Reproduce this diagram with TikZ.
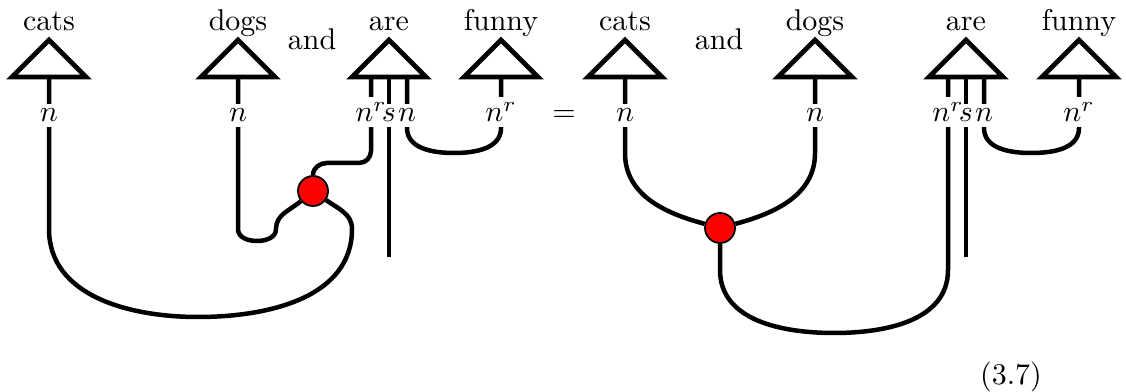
\documentclass[tikz,border=0pt]{standalone}
\usepackage{amsmath}
\usepackage{amssymb}

\begin{document}
\begin{tikzpicture}[x=0.3333pt,y=0.3333pt,
        wire/.style={line width=1.5pt},
        tri/.style={line width=1.6pt},
        lbl/.style={anchor=base,inner sep=1.5pt},
        word/.style={anchor=base,inner sep=0pt},
        dot/.style={circle,draw,fill=red,line width=0.6pt,minimum size=10pt,inner sep=0pt}]
        \useasboundingbox (0,0) rectangle (1126,-392);

        % words and their triangles
        \foreach \name/\x/\w in {cats1/49/cats, dogs1/238/dogs, are1/389/are, funny1/501/funny,
                                 cats2/625/cats, dogs2/815/dogs, are2/966/are, funny2/1079/funny}
        {
            \draw[tri] (\x-37,-77) -- (\x,-40) -- (\x+37,-77) -- cycle;
            \node[word] (w\name) at (\x,-31) {\w};
            \coordinate (\name) at (\x,-77);
        }
        \coordinate (are1nr) at (371,-77);
        \coordinate (are1s)  at (389,-77);
        \coordinate (are1n)  at (407,-77);
        \coordinate (are2nr) at (948,-77);
        \coordinate (are2s)  at (966,-77);
        \coordinate (are2n)  at (984,-77);

        \node[word] (and1) at (312,-50) {and};
        \node[word] (and2) at (719,-50) {and};
        \node[lbl]  (eq)   at (564,-122) {$=$};
        \node[word] (eqno) at (1011,-385) {(3.7)};

        % types on the wires
        \node[lbl] (lc1)  at (49,-122)   {$n$};
        \node[lbl] (ld1)  at (238,-122)  {$n$};
        \node[lbl] (lnr1) at (371,-122)  {$n^r$};
        \node[lbl] (ls1)  at (389,-122)  {$s$};
        \node[lbl] (ln1)  at (407,-122)  {$n$};
        \node[lbl] (lf1)  at (501,-122)  {$n^r$};
        \node[lbl] (lc2)  at (625,-122)  {$n$};
        \node[lbl] (ld2)  at (815,-122)  {$n$};
        \node[lbl] (lnr2) at (948,-122)  {$n^r$};
        \node[lbl] (ls2)  at (966,-122)  {$s$};
        \node[lbl] (ln2)  at (984,-122)  {$n$};
        \node[lbl] (lf2)  at (1079,-122) {$n^r$};

        \node[dot] (d1) at (313,-191) {};
        \node[dot] (d2) at (720,-228) {};
        \coordinate (s1end) at (389,-257);
        \coordinate (s2end) at (966,-257);

        % left side
        \draw[wire] (cats1) -- (lc1) -- (49,-229) to[out=-90,in=180] (198,-317)
                    to[out=0,in=-90] (352,-229) to[out=90,in=-35] (d1);
        \draw[wire] (dogs1) -- (ld1) -- (238,-229) to[out=-90,in=180] (257,-241)
                    to[out=0,in=-90] (276,-229) to[out=90,in=-140] (d1);
        \draw[wire] (are1nr) -- (lnr1) -- (371,-151) to[out=-90,in=0] (359,-163)
                    -- (327,-163) to[out=180,in=90] (d1);
        \draw[wire] (are1s) -- (ls1) -- (s1end);
        \draw[wire] (are1n) -- (ln1) -- (407,-128) to[out=-90,in=180] (454,-153)
                    to[out=0,in=-90] (501,-128) -- (lf1) -- (funny1);

        % right side
        \draw[wire] (cats2) -- (lc2) -- (625,-153) to[out=-90,in=165] (d2);
        \draw[wire] (dogs2) -- (ld2) -- (815,-153) to[out=-90,in=15] (d2);
        \draw[wire] (d2) -- (720,-270) to[out=-90,in=180] (834,-333)
                    to[out=0,in=-90] (948,-270) -- (lnr2) -- (are2nr);
        \draw[wire] (are2s) -- (ls2) -- (s2end);
        \draw[wire] (are2n) -- (ln2) -- (984,-128) to[out=-90,in=180] (1031,-153)
                    to[out=0,in=-90] (1079,-128) -- (lf2) -- (funny2);
\end{tikzpicture}
\end{document}
